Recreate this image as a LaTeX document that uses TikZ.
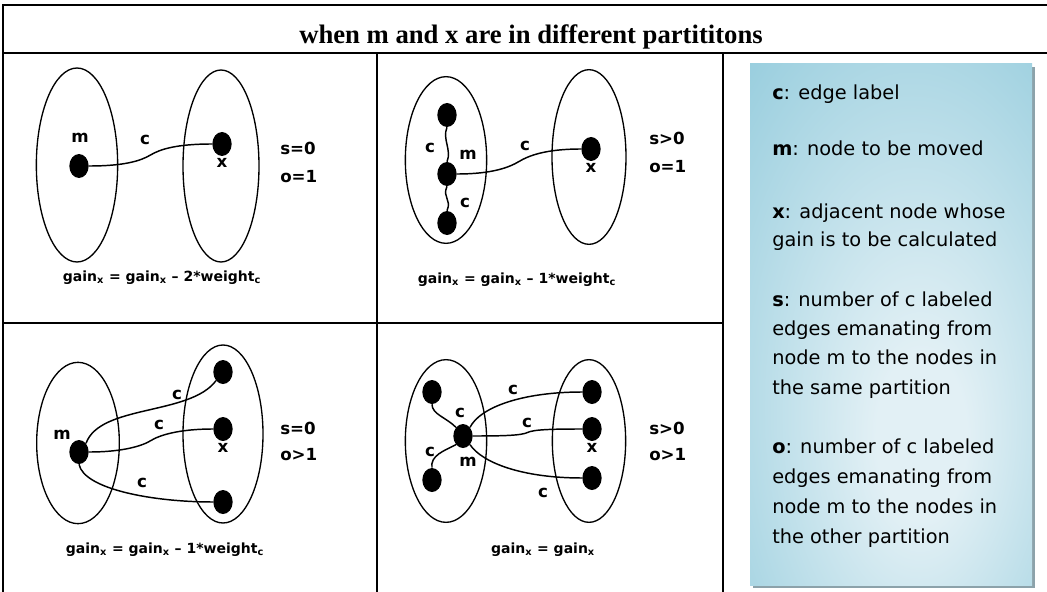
\documentclass[tikz,border=0pt]{standalone}
\usepackage{fontspec}
\setmainfont{Liberation Serif}
\newfontfamily\lblfont{DejaVu Sans}
\usetikzlibrary{positioning}
\usetikzlibrary{shapes.geometric}
\usetikzlibrary{calc}

\definecolor{legedge}{RGB}{140,200,218}
\definecolor{legmid}{RGB}{226,240,245}
\definecolor{legshadow}{RGB}{140,162,170}
\pgfdeclareradialshading{legshade}{\pgfpoint{6bp}{-12bp}}{%
  color(0bp)=(legmid); color(8bp)=(legmid); color(48bp)=(legedge); color(80bp)=(legedge)}

\begin{document}
\begin{tikzpicture}[
  x=0.75pt, y=-0.75pt,
  part/.style 2 args={
    ellipse,
    draw,
    line width=1pt,
    inner sep=0pt,
    minimum width=#1,
    minimum height=#2
  },
  vtx/.style={ellipse, fill=black, inner sep=0pt, minimum width=14.5pt, minimum height=18pt},
  lbl/.style={font=\lblfont\bfseries\fontsize{12.5}{14}\selectfont, inner sep=0pt},
  gain/.style={font=\lblfont\bfseries\fontsize{10.5}{13}\selectfont, inner sep=0pt},
  link/.style={line width=1.1pt},
  legline/.style={anchor=base west, font=\lblfont\fontsize{14.5}{22}\selectfont, inner sep=0pt},
  frame/.style={line width=1.8pt}
]
\useasboundingbox (0,0) rectangle (1047,592);

% Table frame
\draw[frame] (1050,5) -- (3,5) -- (3,596);
\draw[frame] (3,53) -- (1050,53);
\draw[frame] (377,53) -- (377,596);
\draw[frame] (723,53) -- (723,596);
\draw[frame] (3,323) -- (723,323);

\node[font=\bfseries\fontsize{20}{24}\selectfont, anchor=base, inner sep=0pt] (title) at (531,44)
{when m and x are in different partititons};

% Panel 1: s=0, o=1
\node[part={61pt}{145.5pt}] (A1) at (77,165) {};
\node[part={57pt}{144pt}] (B1) at (221,166) {};
\node[vtx] (m1) at (79,166) {};
\node[vtx] (x1) at (222,144) {};
\draw[link] (m1.east) .. controls +(35,0) and +(-10,6) .. ($(m1.east)!0.5!(x1.west)$)
  .. controls +(10,-6) and +(-35,0) .. (x1.west);
\node[lbl] (lm1) at (80,138) {m};
\node[lbl] (lc1) at (145,140) {c};
\node[lbl, below=1.5pt of x1] (lx1) {x};
\node[lbl, anchor=west] (s1) at (280,148) {s=0};
\node[lbl, anchor=west] (o1) at (280,177) {o=1};
\node[gain] (g1) at (162,278) {gain\textsubscript{x} = gain\textsubscript{x} – 2*weight\textsubscript{c}};

% Panel 2: s>0, o=1
\node[part={61pt}{125pt}] (A2) at (446,160) {};
\node[part={55.5pt}{131pt}] (B2) at (589,157) {};
\node[vtx] (t2) at (447,115) {};
\node[vtx] (m2) at (447,174) {};
\node[vtx] (b2) at (447,223) {};
\node[vtx] (x2) at (591,149) {};
\draw[link] (t2.south) .. controls +(-5,12) and +(5,-12) .. (m2.north);
\draw[link] (m2.south) .. controls +(-5,12) and +(5,-12) .. (b2.north);
\draw[link] (m2.east) .. controls +(35,0) and +(-10,6) .. ($(m2.east)!0.5!(x2.west)$)
  .. controls +(10,-6) and +(-35,0) .. (x2.west);
\node[lbl] (lc2a) at (430,148) {c};
\node[lbl] (lm2) at (468,155) {m};
\node[lbl] (lc2b) at (465,203) {c};
\node[lbl] (lc2c) at (525,146) {c};
\node[lbl, below=1.5pt of x2] (lx2) {x};
\node[lbl, anchor=west] (s2) at (649,138) {s>0};
\node[lbl, anchor=west] (o2) at (649,167) {o=1};
\node[gain] (g2) at (517,280) {gain\textsubscript{x} = gain\textsubscript{x} – 1*weight\textsubscript{c}};

% Panel 3: s=0, o>1
\node[part={62pt}{121pt}] (A3) at (78,443) {};
\node[part={60pt}{133.5pt}] (B3) at (223,434) {};
\node[vtx] (m3) at (79,452) {};
\node[vtx] (a3) at (223,372) {};
\node[vtx] (b3) at (223,429) {};
\node[vtx] (d3) at (223,502) {};
\draw[link] (m3.north east) .. controls +(14,-39) and +(-26,35) .. (a3.south west);
\draw[link] (m3.east) .. controls +(35,0) and +(-8,5) .. ($(m3.east)!0.5!(b3.west)$)
  .. controls +(8,-5) and +(-35,0) .. (b3.west);
\draw[link] (m3.south) .. controls +(5,25) and +(-60,0) .. (d3.west);
\node[lbl] (lm3) at (62,435) {m};
\node[lbl] (lc3a) at (177,395) {c};
\node[lbl] (lc3b) at (159,425) {c};
\node[lbl] (lc3c) at (142,483) {c};
\node[lbl, below=1.5pt of b3] (lx3) {x};
\node[lbl, anchor=west] (s3) at (280,428) {s=0};
\node[lbl, anchor=west] (o3) at (280,455) {o>1};
\node[gain] (g3) at (165,550) {gain\textsubscript{x} = gain\textsubscript{x} – 1*weight\textsubscript{c}};

% Panel 4: s>0, o>1
\node[part={61pt}{122pt}] (A4) at (446,441) {};
\node[part={55pt}{122pt}] (B4) at (589,441) {};
\node[vtx] (p4) at (432,392) {};
\node[vtx] (q4) at (432,480) {};
\node[vtx] (m4) at (463,436) {};
\node[vtx] (r4) at (592,392) {};
\node[vtx] (x4) at (592,429) {};
\node[vtx] (u4) at (592,478) {};
\draw[link] (p4.south) .. controls +(0,10) and +(-10,-10) .. (m4.north west);
\draw[link] (q4.north) .. controls +(-2,-12) and +(-12,6) .. (m4.south west);
\draw[link] (m4.north east) .. controls +(10,-20) and +(-60,0) .. (r4.west);
\draw[link] (m4.east) .. controls +(30,0) and +(-6,3) .. ($(m4.east)!0.5!(x4.west)$)
  .. controls +(6,-3) and +(-30,0) .. (x4.west);
\draw[link] (m4.south east) .. controls +(12,18) and +(-60,0) .. (u4.west);
\node[lbl] (lc4a) at (460,413) {c};
\node[lbl] (lc4b) at (430,452) {c};
\node[lbl] (lm4) at (468,462) {m};
\node[lbl] (lc4c) at (513,390) {c};
\node[lbl] (lc4d) at (527,423) {c};
\node[lbl] (lc4e) at (543,493) {c};
\node[lbl, below=1.5pt of x4] (lx4) {x};
\node[lbl, anchor=west] (s4) at (649,428) {s>0};
\node[lbl, anchor=west] (o4) at (649,455) {o>1};
\node[gain] (g4) at (543,550) {gain\textsubscript{x} = gain\textsubscript{x}};

% Legend
\fill[legshadow] (753,67) rectangle (1035,588);
\shade[shading=legshade] (750,64) rectangle (1032,585);
\foreach \yy/\txt in {
  99/{\textbf{c}: edge label},
  156/{\textbf{m}: node to be moved},
  218/{\textbf{x}: adjacent node whose},
  246/{gain is to be calculated},
  306/{\textbf{s}: number of c labeled},
  335/{edges emanating from},
  364/{node m to the nodes in},
  394/{the same partition},
  453/{\textbf{o}: number of c labeled},
  483/{edges emanating from},
  513/{node m to the nodes in},
  543/{the other partition}}
  \node[legline] at (772,\yy) {\txt};

\end{tikzpicture}
\end{document}
